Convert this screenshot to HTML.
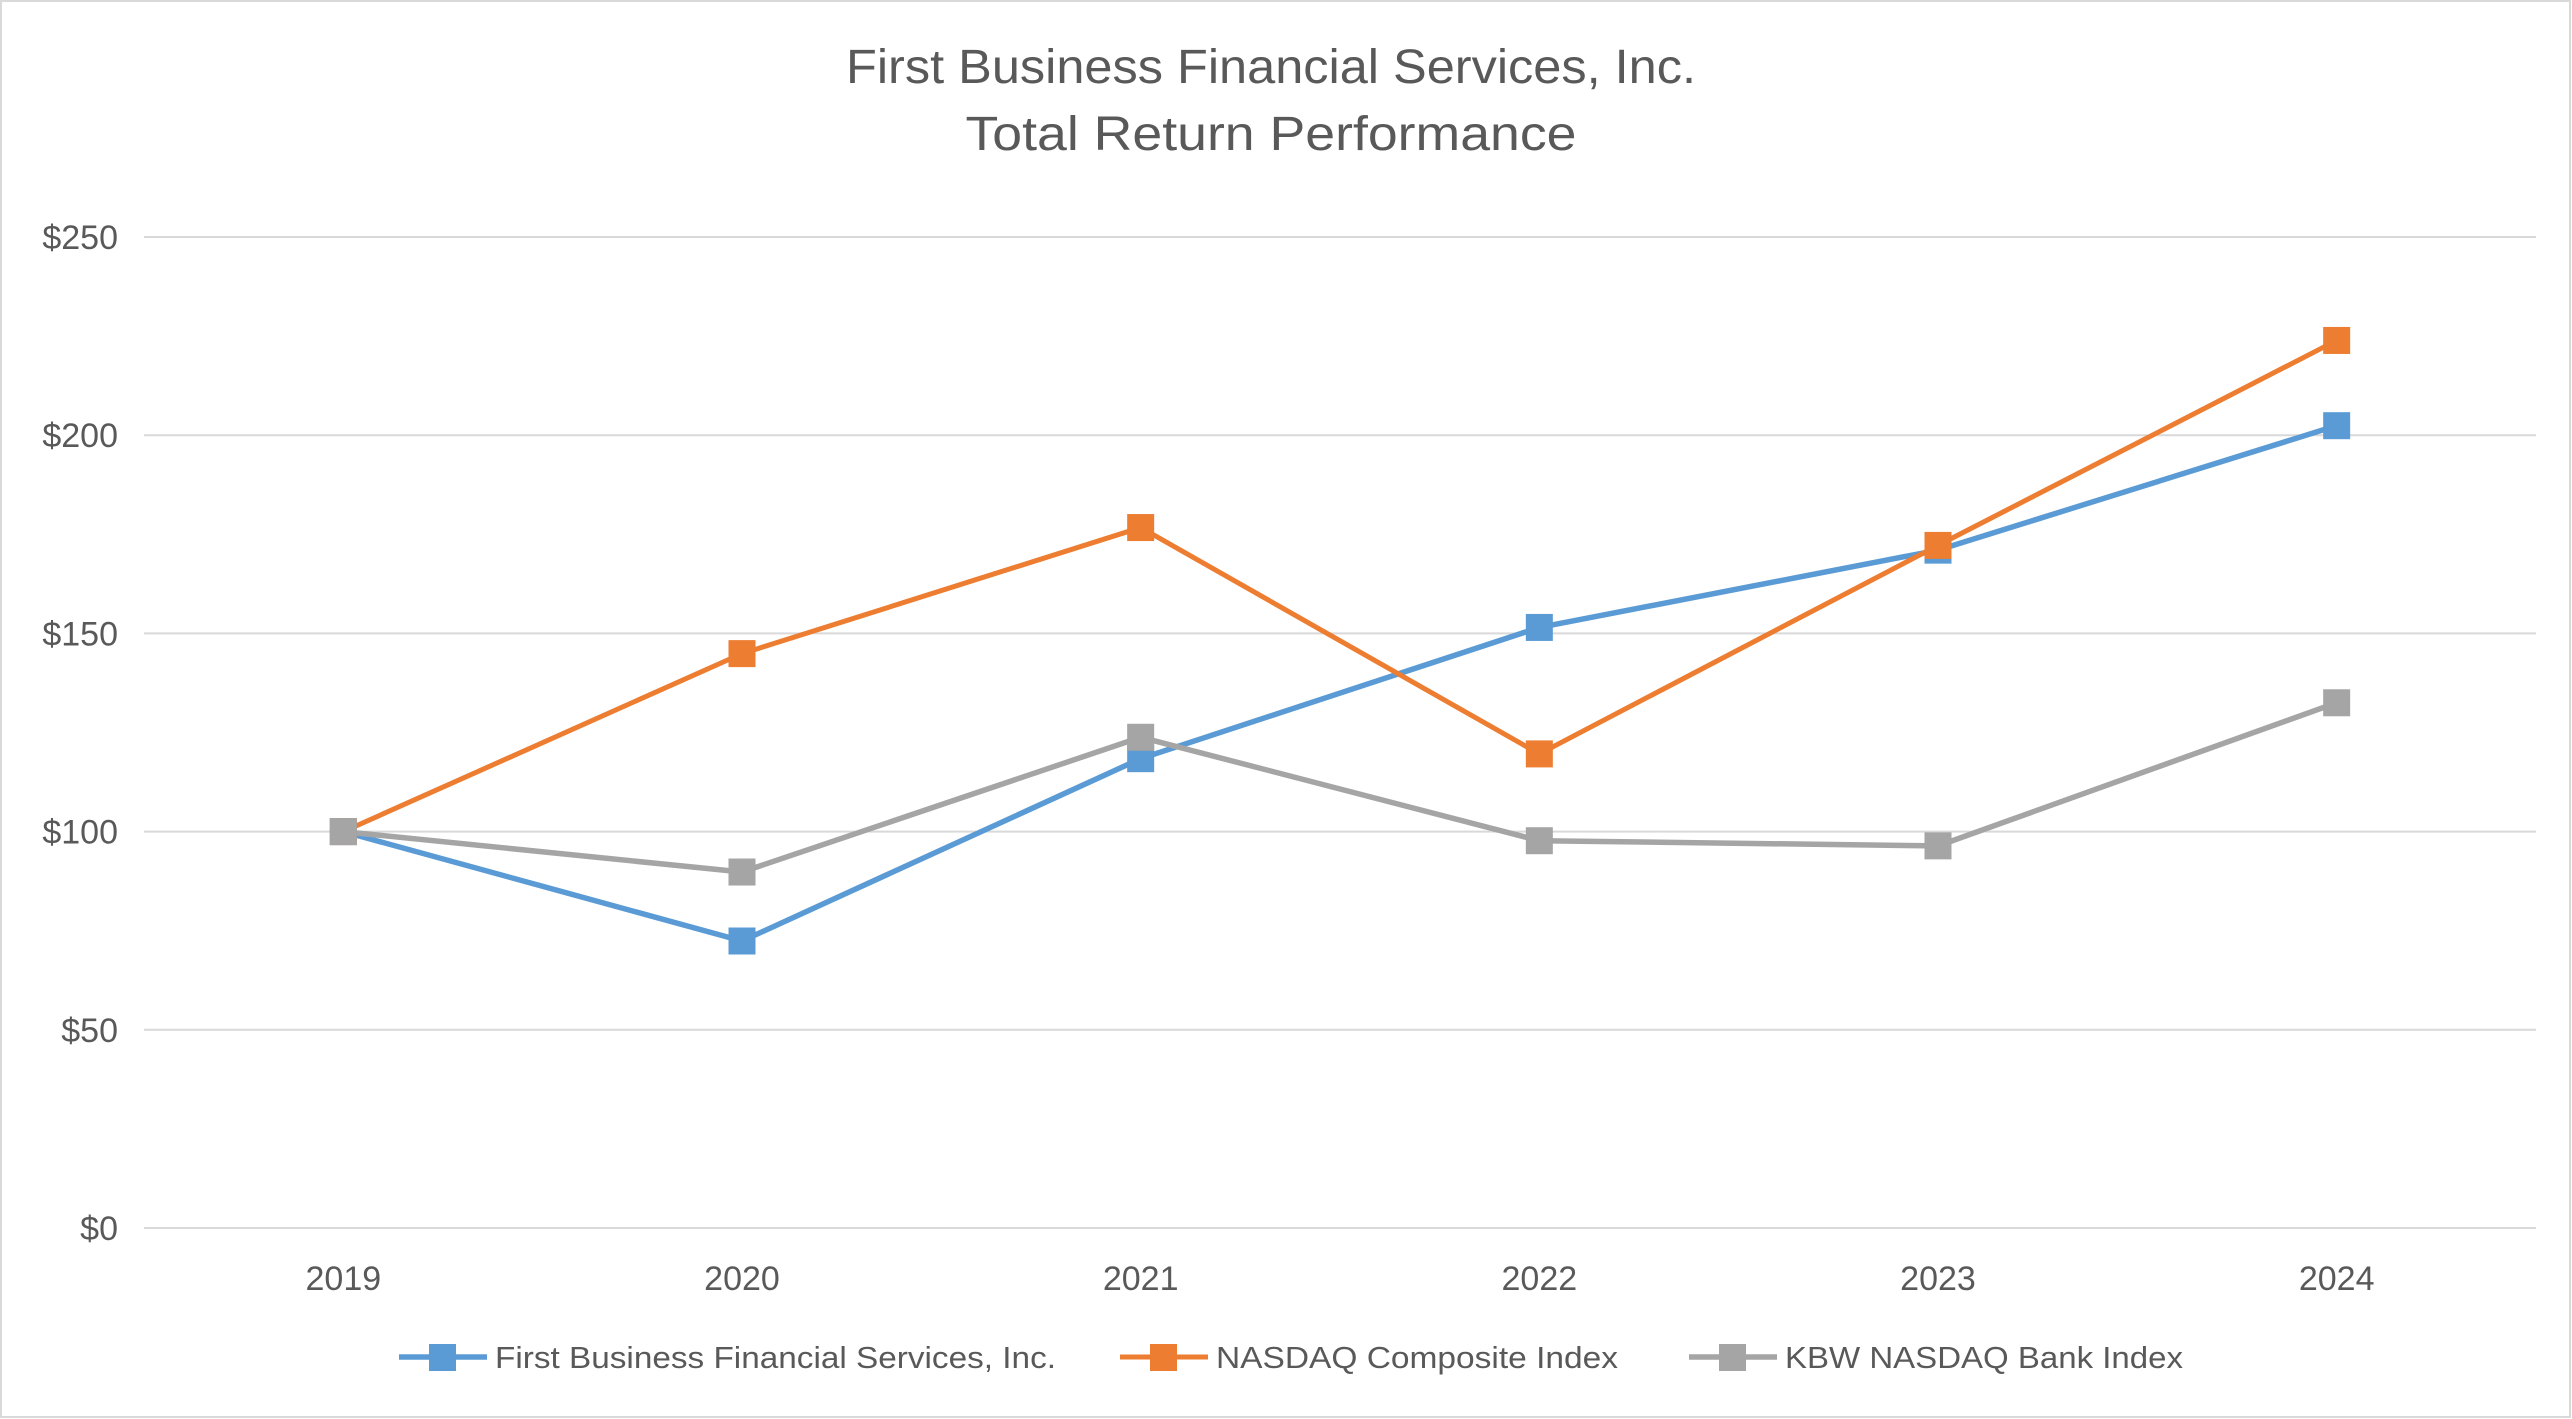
<!DOCTYPE html>
<html><head><meta charset="utf-8"><style>
html,body{margin:0;padding:0;background:#fff}
svg{display:block;font-family:"Liberation Sans",sans-serif}
</style></head><body>
<svg id="chart" width="2572" height="1419" viewBox="0 0 2572 1419" xmlns="http://www.w3.org/2000/svg">
<rect x="1" y="1" width="2569" height="1416" fill="#fff" stroke="#D9D9D9" stroke-width="2"/>
<text x="1271" y="83" text-anchor="middle" font-size="48" fill="#595959" textLength="850" lengthAdjust="spacingAndGlyphs">First Business Financial Services, Inc.</text>
<text x="1271" y="150" text-anchor="middle" font-size="48" fill="#595959" textLength="611" lengthAdjust="spacingAndGlyphs">Total Return Performance</text>
<g id="grid"></g><g id="yticks"></g><g id="xticks"></g><g id="series"></g>
<g id="legend"></g>
</svg>
<script>
const categories = ["2019","2020","2021","2022","2023","2024"];
const firstBusiness = [100, 72.4, 118.4, 151.5, 171, 202.4];
const nasdaqComposite = [100, 144.9, 176.7, 119.6, 172.2, 223.9];
const kbwBank = [100, 89.8, 123.8, 97.7, 96.4, 132.5];
const yTicks = [0, 50, 100, 150, 200, 250];
const yTickLabels = ["$0","$50","$100","$150","$200","$250"];

const NS = "http://www.w3.org/2000/svg";
const L = 144, R = 2536, Y0 = 1228, Y250 = 237;
const band = (R - L) / categories.length;
const x = i => L + band * (i + 0.5);
const y = v => Y0 - (v / 250) * (Y0 - Y250);
function mk(tag, attrs, parent) {
  const e = document.createElementNS(NS, tag);
  for (const k in attrs) e.setAttribute(k, attrs[k]);
  parent.appendChild(e);
  return e;
}
const grid = document.getElementById('grid');
const yt = document.getElementById('yticks');
yTicks.forEach((t, i) => {
  const ln = mk('line', {x1: L, x2: R, y1: y(t), y2: y(t), stroke: '#D9D9D9', 'stroke-width': 2}, grid);
  
  
  const tx = mk('text', {x: 118, y: y(t) + 12, 'text-anchor': 'end', 'font-size': 34, fill: '#595959'}, yt);
  tx.textContent = yTickLabels[i];
  
  
});
const xt = document.getElementById('xticks');
categories.forEach((c, i) => {
  const tx = mk('text', {x: x(i), y: 1290, 'text-anchor': 'middle', 'font-size': 34, fill: '#595959'}, xt);
  tx.textContent = c;
  
  
});
const seriesList = [
  {name: 'first-business', label: 'First Business Financial Services, Inc.', data: firstBusiness, color: '#5B9BD5', w: 5.5, lx: 399, tl: 561},
  {name: 'nasdaq-composite', label: 'NASDAQ Composite Index', data: nasdaqComposite, color: '#ED7D31', w: 5, lx: 1120, tl: 402},
  {name: 'kbw-bank', label: 'KBW NASDAQ Bank Index', data: kbwBank, color: '#A5A5A5', w: 5.5, lx: 1689, tl: 398}
];
const sg = document.getElementById('series');
const lg = document.getElementById('legend');
seriesList.forEach(s => {
  const g = mk('g', {}, sg);
  
  
  const pl = mk('polyline', {points: s.data.map((v, i) => x(i) + ',' + y(v)).join(' '), fill: 'none', stroke: s.color, 'stroke-width': s.w, 'stroke-linejoin': 'round'}, g);
  
  
  s.data.forEach((v, i) => {
    const m = mk('rect', {x: x(i) - 13.5, y: y(v) - 13.5, width: 27, height: 27, fill: s.color}, g);
    
    
  });
  const e = mk('g', {}, lg);
  
  
  mk('line', {x1: s.lx, x2: s.lx + 88, y1: 1357, y2: 1357, stroke: s.color, 'stroke-width': s.w}, e);
  mk('rect', {x: s.lx + 30, y: 1344, width: 27, height: 27, fill: s.color}, e);
  const t = mk('text', {x: s.lx + 96, y: 1368, 'font-size': 31, fill: '#595959', textLength: s.tl, lengthAdjust: 'spacingAndGlyphs'}, e);
  t.textContent = s.label;
});
</script>
</body></html>
